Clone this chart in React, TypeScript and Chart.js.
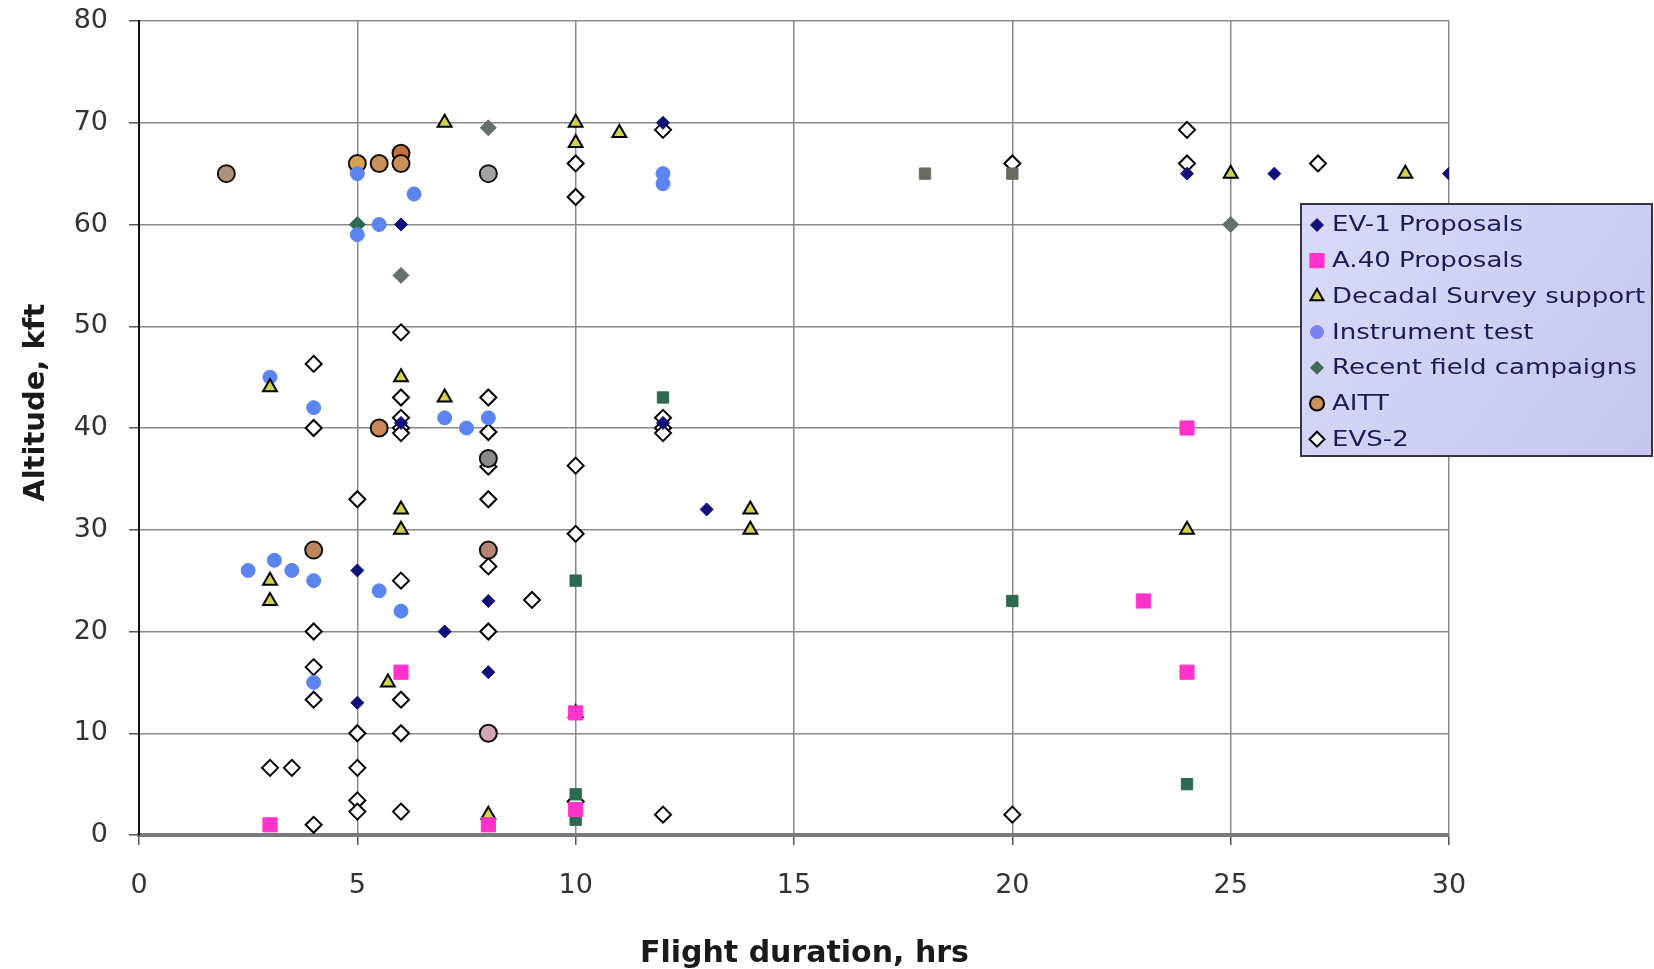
import React, { useEffect, useRef } from 'react';
import { Chart, registerables } from 'chart.js';

Chart.register(...registerables);

// ---- Data (flight duration hrs, altitude kft) ----
const seriesNames = [
  'EV-1 Proposals',
  'A.40 Proposals',
  'Decadal Survey support',
  'Instrument test',
  'Recent field campaigns',
  'AITT',
  'EVS-2',
];

const ev1Proposals = [
  [6, 60], [12, 70], [24, 65], [26, 65], [30, 65], [13, 32], [5, 26],
  [8, 23], [7, 20], [8, 16], [5, 13], [6, 40.5], [12, 40.5],
];

const a40Proposals = [
  [3, 1], [6, 16], [8, 1], [10, 12], [10, 2.5], [23, 23], [24, 40], [24, 16],
];

const decadalSurvey = [
  [7, 70], [10, 70], [10, 68], [11, 69], [25, 65], [29, 65], [3, 44], [6, 45],
  [7, 43], [6, 32], [6, 30], [3, 25], [3, 23], [5.7, 15], [10, 12], [14, 32],
  [14, 30], [24, 30], [8, 2],
];

const instrumentTest = [
  [5, 65], [5, 59], [5.5, 60], [6.3, 63], [12, 65], [12, 64], [3, 45], [4, 42],
  [7, 41], [7.5, 40], [8, 41], [2.5, 26], [3.1, 27], [3.5, 26], [4, 25],
  [5.5, 24], [6, 22], [4, 15],
];

const recentField = [
  [8, 69.5], [6, 55], [25, 60], [5, 60], [12, 43], [10, 25], [20, 23], [24, 5],
  [18, 65], [20, 65], [10, 4], [10, 1.5],
];

const aitt = [
  [2, 65], [5, 66], [5.5, 66], [6, 67], [6, 66], [8, 65], [5.5, 40], [4, 28],
  [8, 28], [8, 37], [8, 10],
];

const evs2 = [
  [12, 69.3], [24, 69.3], [24, 66], [27, 66], [20, 66], [10, 66], [10, 62.7],
  [6, 49.4], [4, 46.3], [4, 40], [6, 43], [6, 41], [6, 40], [6, 39.5], [8, 43],
  [8, 39.6], [8, 36.2], [8, 33], [5, 33], [12, 41], [12, 40], [12, 39.5],
  [10, 36.3], [10, 29.6], [8, 26.4], [6, 25], [9, 23.1], [4, 20], [8, 20],
  [4, 16.5], [4, 13.3], [6, 13.3], [5, 10], [6, 10], [3, 6.6], [3.5, 6.6],
  [5, 6.6], [5, 3.4], [5, 2.3], [6, 2.3], [4, 1], [12, 2], [20, 2], [10, 3.3],
];

const xTicks = [0, 5, 10, 15, 20, 25, 30];
const yTicks = [0, 10, 20, 30, 40, 50, 60, 70, 80];

// ---- Styles ----
const recentShapes = ['rectRot', 'rectRot', 'rectRot', 'rectRot', 'rect', 'rect', 'rect', 'rect', 'rect', 'rect', 'rect', 'rect'];
const recentColors = ['#66706a', '#66706a', '#66706a', '#2d6a4f', '#2d6a4f', '#2d6a4f', '#2d6a4f', '#2d6a4f', '#6a6a62', '#6a6a62', '#2d6a4f', '#2d6a4f'];
const aittColors = ['#ad9178', '#d4a24a', '#c9905a', '#c4703e', '#c9905a', '#a3a3a3', '#c9885a', '#c0845a', '#b48672', '#8a8a8a', '#d4a6b4'];

const toPts = (arr: number[][]) => arr.map(([x, y]) => ({ x, y }));

const FONT = '"DejaVu Sans", Verdana, sans-serif';

type Marker = { shape: string; fill: string; stroke: string; r: number; lw: number };
const legendMarkers: Marker[] = [
  { shape: 'rectRot', fill: '#10107a', stroke: '#10107a', r: 6.5, lw: 1 },
  { shape: 'rect', fill: '#ff33cc', stroke: '#ff33cc', r: 10, lw: 1 },
  { shape: 'triangle', fill: '#d6d64a', stroke: '#000', r: 7.5, lw: 2 },
  { shape: 'circle', fill: '#7a82ee', stroke: '#7a82ee', r: 6.5, lw: 1 },
  { shape: 'rectRot', fill: '#3f6a55', stroke: '#3f6a55', r: 6.5, lw: 1 },
  { shape: 'circle', fill: '#c9905a', stroke: '#000', r: 7, lw: 2 },
  { shape: 'rectRot', fill: '#ffffff', stroke: '#000', r: 7.5, lw: 2 },
];

function drawMarker(ctx: CanvasRenderingContext2D, m: Marker, x: number, y: number) {
  ctx.beginPath();
  if (m.shape === 'circle') {
    ctx.arc(x, y, m.r, 0, Math.PI * 2);
  } else if (m.shape === 'rect') {
    const h = m.r * Math.SQRT1_2;
    ctx.rect(x - h, y - h, 2 * h, 2 * h);
  } else if (m.shape === 'rectRot') {
    ctx.moveTo(x, y - m.r);
    ctx.lineTo(x + m.r, y);
    ctx.lineTo(x, y + m.r);
    ctx.lineTo(x - m.r, y);
    ctx.closePath();
  } else if (m.shape === 'triangle') {
    ctx.moveTo(x, y - m.r);
    ctx.lineTo(x + m.r * 0.866, y + m.r * 0.5);
    ctx.lineTo(x - m.r * 0.866, y + m.r * 0.5);
    ctx.closePath();
  }
  ctx.fillStyle = m.fill;
  ctx.fill();
  ctx.lineWidth = m.lw;
  ctx.strokeStyle = m.stroke;
  ctx.stroke();
}

const boxLegend = {
  id: 'boxLegend',
  afterDraw(chart: any) {
    const ctx: CanvasRenderingContext2D = chart.ctx;
    const L = 1301, T = 204, W = 351, H = 252;
    ctx.save();
    const g = ctx.createLinearGradient(L, T, L + W, T + H);
    g.addColorStop(0, '#dadaf8');
    g.addColorStop(1, '#c6c6f0');
    ctx.fillStyle = g;
    ctx.fillRect(L, T, W, H);
    ctx.lineWidth = 2;
    ctx.strokeStyle = '#333344';
    ctx.strokeRect(L, T, W, H);
    chart.data.datasets.forEach((ds: any, i: number) => {
      const cy = T + 21 + i * 35.7;
      drawMarker(ctx, legendMarkers[i], L + 16, cy);
      ctx.save();
      ctx.translate(L + 31, cy + 1);
      ctx.scale(1.24, 1);
      ctx.font = `21px ${FONT}`;
      ctx.fillStyle = '#1c1c55';
      ctx.textBaseline = 'middle';
      ctx.textAlign = 'left';
      ctx.fillText(ds.label, 0, 0);
      ctx.restore();
    });
    ctx.restore();
  },
};

export default function App() {
  const canvasRef = useRef<HTMLCanvasElement | null>(null);

  useEffect(() => {
    if (!canvasRef.current) return;
    Chart.defaults.font.family = FONT;

    const chart = new Chart(canvasRef.current, {
      type: 'scatter',
      data: {
        datasets: [
          {
            label: seriesNames[0],
            data: toPts(ev1Proposals),
            pointStyle: 'rectRot',
            pointRadius: 6.5,
            backgroundColor: '#10107a',
            borderColor: '#10107a',
            borderWidth: 1,
          },
          {
            label: seriesNames[1],
            data: toPts(a40Proposals),
            pointStyle: 'rect',
            pointRadius: 10,
            backgroundColor: '#ff33cc',
            borderColor: '#ff33cc',
            borderWidth: 1,
          },
          {
            label: seriesNames[2],
            data: toPts(decadalSurvey),
            pointStyle: 'triangle',
            pointRadius: 8,
            backgroundColor: '#d2d24a',
            borderColor: '#000000',
            borderWidth: 2,
          },
          {
            label: seriesNames[3],
            data: toPts(instrumentTest),
            pointStyle: 'circle',
            pointRadius: 7,
            backgroundColor: '#5c84f0',
            borderColor: '#5c84f0',
            borderWidth: 1,
          },
          {
            label: seriesNames[4],
            data: toPts(recentField),
            pointStyle: recentShapes as any,
            pointRadius: 8,
            backgroundColor: recentColors,
            borderColor: recentColors,
            borderWidth: 1,
          },
          {
            label: seriesNames[5],
            data: toPts(aitt),
            pointStyle: 'circle',
            pointRadius: 8.5,
            backgroundColor: aittColors,
            borderColor: '#111111',
            borderWidth: 2,
          },
          {
            label: seriesNames[6],
            data: toPts(evs2),
            pointStyle: 'rectRot',
            pointRadius: 8,
            backgroundColor: '#ffffff',
            borderColor: '#000000',
            borderWidth: 2,
          },
        ],
      },
      options: {
        animation: false,
        responsive: true,
        maintainAspectRatio: false,
        layout: { padding: { top: 21, right: 205, left: 0, bottom: 0 } },
        plugins: {
          legend: { display: false },
          tooltip: { enabled: false },
        },
        scales: {
          x: {
            type: 'linear',
            min: xTicks[0],
            max: xTicks[xTicks.length - 1],
            afterBuildTicks: (s: any) => { s.ticks = xTicks.map((v) => ({ value: v })); },
            ticks: { font: { size: 27 }, color: '#333333', padding: 25 },
            grid: { color: '#8a8a8a', lineWidth: 1.5, tickLength: 10, tickColor: '#555555' },
            border: { color: '#7a7a7a', width: 4 },
            title: {
              display: true,
              text: '  Flight duration, hrs',
              font: { size: 30, weight: 'bold', lineHeight: 1.0 },
              color: '#1a1a1a',
              padding: { top: 0, bottom: 0 },
            },
            afterFit: (s: any) => {
              s.height = 134;
              s.paddingLeft = 0;
              s.paddingRight = 0;
            },
          },
          y: {
            type: 'linear',
            min: yTicks[0],
            max: yTicks[yTicks.length - 1],
            afterBuildTicks: (s: any) => { s.ticks = yTicks.map((v) => ({ value: v })); },
            ticks: { font: { size: 27 }, color: '#333333', padding: 21 },
            grid: { color: '#8a8a8a', lineWidth: 1.5, tickLength: 10, tickColor: '#555555' },
            border: { color: '#111111', width: 2 },
            title: {
              display: true,
              text: '     Altitude, kft',
              font: { size: 29, weight: 'bold' },
              color: '#1a1a1a',
              padding: { top: 19, bottom: 0 },
            },
            afterFit: (s: any) => {
              s.width = 139;
              s.paddingTop = 0;
              s.paddingBottom = 0;
            },
          },
        },
      },
      plugins: [boxLegend],
    });

    return () => chart.destroy();
  }, []);

  return (
    <div
      style={{
        position: 'fixed',
        left: 0,
        top: 0,
        width: 1654,
        height: 969,
        background: '#ffffff',
      }}
    >
      <canvas ref={canvasRef} />
    </div>
  );
}
